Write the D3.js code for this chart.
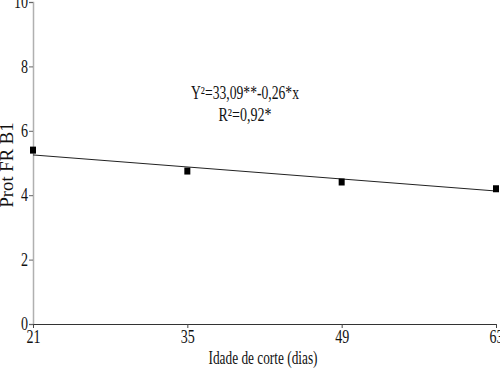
<!DOCTYPE html>
<html>
<head>
<meta charset="utf-8">
<script src="https://cdn.jsdelivr.net/npm/d3@7"></script>
<style>
  body { margin: 0; background: #fff; }
  text { font-family: "Liberation Serif", "Times New Roman", serif; fill: #111; }
</style>
</head>
<body>
<svg id="chart"></svg>
<script>
// dados
const days = [21, 35, 49, 63];
const protValues = [5.40, 4.75, 4.41, 4.20];
const fitDays = [21, 63];
const fitValues = [5.25, 4.13];
const xTicks = [21, 35, 49, 63];
const yTicks = [0, 2, 4, 6, 8, 10];
const equationLines = ["Y\u00b2=33,09**-0,26*x", "R\u00b2=0,92*"];

const width = 500;
const height = 370;
const margin = { top: 2, right: 4, bottom: 46, left: 33 };

const svg = d3.select('#chart')
    .attr('width', width)
    .attr('height', height);

const innerWidth = width - margin.left - margin.right;
const innerHeight = height - margin.top - margin.bottom;

const chart = svg.append('g')
    .attr('transform', `translate(${margin.left}, ${margin.top})`);

const xscale = d3.scaleLinear().domain([21, 63]).range([0, innerWidth]);
const yscale = d3.scaleLinear().domain([0, 10]).range([innerHeight, 0]);

// o texto do original é estreito: comprime na horizontal
function squeeze(sel, k) {
    sel.each(function () {
        const w = this.getComputedTextLength();
        d3.select(this)
            .attr('textLength', w * k)
            .attr('lengthAdjust', 'spacingAndGlyphs');
    });
}

// eixos
const xaxis = d3.axisBottom(xscale).tickValues(xTicks).tickSize(4).tickPadding(2);
const yaxis = d3.axisLeft(yscale).tickValues(yTicks).tickSize(4).tickPadding(1);

const yaxisGroup = chart.append('g').call(yaxis);
yaxisGroup.select('.domain').attr('stroke', '#b0b0b0').attr('stroke-width', 1.5);
yaxisGroup.selectAll('.tick line').attr('stroke', '#666');
yaxisGroup.selectAll('.tick text')
    .style('font-family', '"Liberation Serif", serif')
    .style('font-size', '18px')
    .attr('fill', '#111')
    .call(squeeze, 0.78);

const xaxisGroup = chart.append('g')
    .attr('transform', `translate(0, ${innerHeight})`)
    .call(xaxis);
xaxisGroup.select('.domain').attr('stroke', '#333');
xaxisGroup.selectAll('.tick line').attr('stroke', '#444');
xaxisGroup.selectAll('.tick text')
    .style('font-family', '"Liberation Serif", serif')
    .style('font-size', '18px')
    .attr('fill', '#111')
    .call(squeeze, 0.78);

// linha de regressão
const line = d3.line()
    .x(d => xscale(d[0]))
    .y(d => yscale(d[1]));

chart.append('path')
    .datum(d3.zip(fitDays, fitValues))
    .attr('d', line)
    .attr('stroke', '#222')
    .attr('stroke-width', 1)
    .attr('fill', 'none');

// pontos
const markW = 6, markH = 7;
chart.selectAll('rect.pt')
    .data(d3.zip(days, protValues))
    .enter()
    .append('rect')
    .attr('class', 'pt')
    .attr('x', d => xscale(d[0]) - markW / 2)
    .attr('y', d => yscale(d[1]) - markH / 2)
    .attr('width', markW)
    .attr('height', markH)
    .attr('fill', '#000');

// equação
const eqWidths = [108, 53];
chart.append('g')
    .selectAll('text')
    .data(equationLines)
    .enter()
    .append('text')
    .attr('x', 245 - margin.left)
    .attr('y', (d, i) => 97 + i * 22)
    .attr('text-anchor', 'middle')
    .attr('textLength', (d, i) => eqWidths[i])
    .attr('lengthAdjust', 'spacingAndGlyphs')
    .style('font-size', '18px')
    .text(d => d);

// títulos dos eixos
svg.append('text')
    .attr('x', 263)
    .attr('y', 364)
    .attr('text-anchor', 'middle')
    .attr('textLength', 109)
    .attr('lengthAdjust', 'spacingAndGlyphs')
    .style('font-size', '18px')
    .text('Idade de corte (dias)');

svg.append('text')
    .attr('transform', 'translate(13, 165) rotate(-90)')
    .attr('text-anchor', 'middle')
    .attr('textLength', 85)
    .attr('lengthAdjust', 'spacingAndGlyphs')
    .style('font-size', '18px')
    .text('Prot FR B1');
</script>
</body>
</html>
